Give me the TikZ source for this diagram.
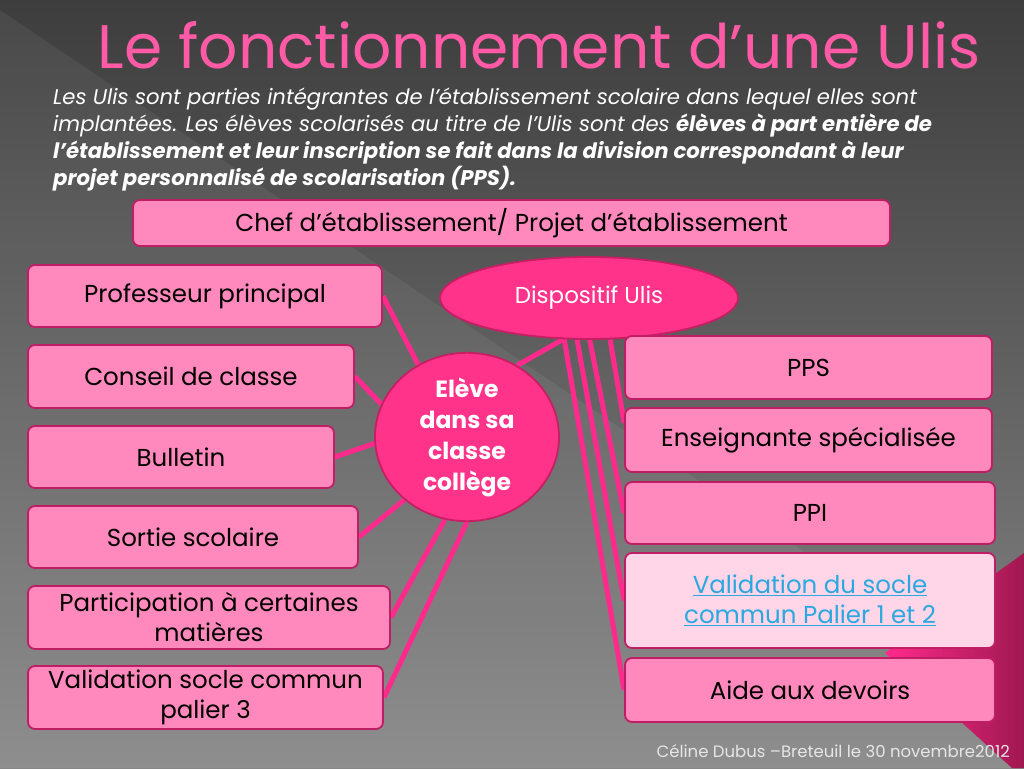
\documentclass[tikz,border=0pt]{standalone}
\usepackage{fontspec}
\setmainfont{Poppins}
\usetikzlibrary{shapes.geometric,positioning,backgrounds}
\definecolor{boxfill}{HTML}{FF88BC}
\definecolor{boxline}{HTML}{C01E64}
\definecolor{lightfill}{HTML}{FFD6E8}
\definecolor{hotfill}{HTML}{FF3389}
\definecolor{hotline}{HTML}{C81E64}
\definecolor{wirecol}{HTML}{FF2A8C}
\definecolor{titlepink}{HTML}{FF5AA6}
\definecolor{linkblue}{HTML}{2AA8E0}
\definecolor{footgrey}{HTML}{E6E6E6}
\pgfdeclarelayer{bg}
\pgfdeclarelayer{wires}
\pgfsetlayers{bg,wires,main}

\begin{document}
\begin{tikzpicture}[x=1pt, y=-1pt,
      box/.style={draw=boxline, fill=boxfill, line width=1.8pt, rounded corners=7pt,
        inner sep=2pt, align=center, text=black, font=\fontsize{24.5}{30}\selectfont},
      hot/.style={ellipse, draw=hotline, fill=hotfill, line width=1.8pt,
        text=white, align=center, inner sep=0pt},
      wire/.style={draw=wirecol, line width=5pt}]

      \useasboundingbox (0,0) rectangle (1024,768);

      % background
      \begin{pgfonlayer}{bg}
        \shade[top color=black!76, bottom color=black!47] (0,0) rectangle (1024,768);
        \fill[white, opacity=0.06] (0,10) -- (1024,700) -- (1024,768) -- (0,768) -- cycle;
        \shade[left color=wirecol, right color=hotline!80!black]
          (1024,553) -- (885,653) -- (1012,768) -- (1024,768) -- cycle;
      \end{pgfonlayer}

      \node[font=\fontsize{61.5}{62}\selectfont, text=titlepink] (title) at (539,45)
          {Le fonctionnement d’une Ulis};
      \node[anchor=north west, inner sep=0pt, align=left, text=white,
          font=\fontsize{21.2}{26.8}\selectfont\itshape] (intro) at (53,88)
          {Les Ulis sont parties intégrantes de l'établissement scolaire dans lequel elles sont\\
           implantées. Les élèves scolarisés au titre de l'Ulis sont des \textbf{élèves à part entière de}\\
           \textbf{l'établissement et leur inscription se fait dans la division correspondant à leur}\\
           \textbf{projet personnalisé de scolarisation (PPS).}};

      \node[box, minimum width=757pt, minimum height=46pt] (chef) at (511.5,223)
          {Chef d’établissement/ Projet d’établissement};

      % left column
      \node[box, minimum width=354pt, minimum height=62pt] (prof) at (205,296) {Professeur principal};
      \node[box, minimum width=326pt, minimum height=63pt] (conseil) at (191,376.5) {Conseil de classe};
      \node[box, minimum width=306pt, minimum height=62pt] (bulletin) at (181,457) {Bulletin};
      \node[box, minimum width=330pt, minimum height=62pt] (sortie) at (193,537) {Sortie scolaire};
      \node[box, minimum width=362pt, minimum height=63pt] (particip) at (209,617.5)
          {Participation à certaines\\matières};
      \node[box, minimum width=355pt, minimum height=63pt] (socle3) at (205.5,697.5)
          {Validation socle commun\\palier 3};

      % centre
      \node[hot, minimum width=298pt, minimum height=82pt,
          font=\fontsize{23}{26}\selectfont] (disp) at (589,298) {Dispositif Ulis};
      \node[hot, minimum width=184pt, minimum height=154pt,
          font=\fontsize{23.5}{31}\selectfont\bfseries] (eleve) at (467,437)
          {Elève\\dans sa\\classe\\collège};

      % right column
      \node[box, minimum width=367pt, minimum height=63pt] (pps) at (808.5,367.5) {PPS};
      \node[box, minimum width=367pt, minimum height=64pt] (ens) at (808.5,440) {Enseignante spécialisée};
      \node[box, minimum width=370pt, minimum height=62pt] (ppi) at (810,513) {PPI};
      \node[box, fill=lightfill, minimum width=370pt, minimum height=95pt, text=linkblue] (socle12) at (810,600.5)
          {\underline{Validation du socle}\\\underline{commun Palier 1 et 2}};
      \node[box, minimum width=370pt, minimum height=64pt] (aide) at (810,690) {Aide aux devoirs};

      \node[anchor=base east, inner sep=0pt, text=footgrey,
          font=\fontsize{16.5}{18}\selectfont] (foot) at (1010,757)
          {Céline Dubus –Breteuil le 30 novembre2012};

      \begin{pgfonlayer}{wires}
        \draw[wire] (prof.east) -- (eleve.124);
        \draw[wire] (conseil.east) -- (eleve.159);
        \draw[wire] (bulletin.east) -- (eleve.184);
        \draw[wire] (sortie.east) -- (eleve.225);
        \draw[wire] (particip.east) -- (eleve.255);
        \draw[wire] (socle3.east) -- (eleve.270);
        \draw[wire] (disp.238) -- (eleve.55);
        \draw[wire] (disp.318) -- (pps.north west);
        \draw[wire] (disp.297) -- ([yshift=17pt]ens.west);
        \draw[wire] (disp.271) -- (ppi.west);
        \draw[wire] (disp.254) -- (socle12.west);
        \draw[wire] (disp.239) -- (aide.west);
      \end{pgfonlayer}
\end{tikzpicture}
\end{document}
